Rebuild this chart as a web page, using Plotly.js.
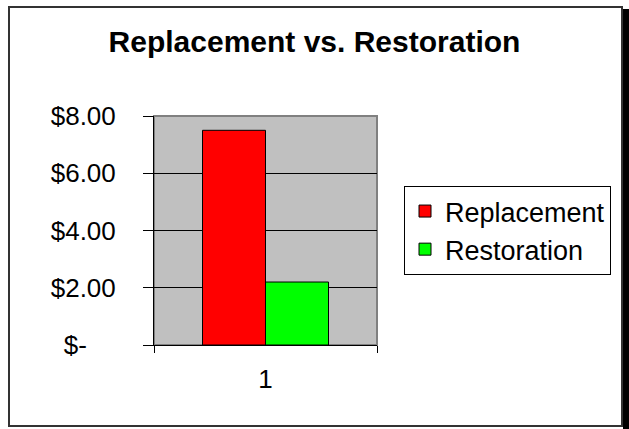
<!DOCTYPE html>
<html>
<head>
<meta charset="utf-8">
<script src="https://cdn.plot.ly/plotly-3.0.1.min.js"></script>
<style>html,body{margin:0;padding:0;background:#fff;}#chart{width:629px;height:429px;}</style>
</head>
<body>
<div id="chart"></div>
<script>
const categories = ['1'];
const seriesNames = ['Replacement', 'Restoration'];
const replacementValues = [7.5];
const restorationValues = [2.2];
const yTickVals = [0, 2, 4, 6, 8];
const yTickText = ['$-\u00a0\u00a0\u00a0\u00a0', '$2.00', '$4.00', '$6.00', '$8.00'];

const FONT = 'Liberation Sans, Arial, sans-serif';

const traces = [
  {type: 'bar', name: seriesNames[0], x: categories, y: replacementValues,
   marker: {color: '#ff0000', line: {color: '#000', width: 1}}},
  {type: 'bar', name: seriesNames[1], x: categories, y: restorationValues,
   marker: {color: '#00ff00', line: {color: '#000', width: 1}}}
];

const W = 629, H = 429, L = 154, R = 377, T = 116, B = 345;
function px(x){ return (x - L) / (R - L); }
function py(y){ return (B - y) / (B - T); }

const layout = {
  width: W, height: H,
  margin: {l: L, r: W - R, t: T, b: H - B, pad: 0},
  paper_bgcolor: '#fff',
  plot_bgcolor: '#c0c0c0',
  font: {family: FONT, color: '#000', size: 26},
  title: {text: 'Replacement vs. Restoration', font: {family: FONT, size: 30, weight: 'bold', color: '#000'},
          x: 0.5, xref: 'container', xanchor: 'center', y: 1 - 41 / H, yref: 'container', yanchor: 'middle'},
  barmode: 'group', bargap: 0.435, bargroupgap: 0,
  showlegend: true,
  legend: {x: px(404), y: py(186), xanchor: 'left', yanchor: 'top', bgcolor: '#fff',
           bordercolor: '#000', borderwidth: 1, font: {family: FONT, size: 27, color: '#000'},
           traceorder: 'normal'},
  xaxis: {type: 'category', showline: true, linecolor: '#000', linewidth: 1,
          ticks: 'outside', tickson: 'boundaries', ticklen: 7, tickcolor: '#000',
          showgrid: false, zeroline: false, tickfont: {size: 26}, ticklabelstandoff: 11,
          fixedrange: true},
  yaxis: {range: [0, 8], tickvals: yTickVals, ticktext: yTickText, showline: true,
          linecolor: '#000', linewidth: 1, ticks: 'outside', ticklen: 10, tickcolor: '#000',
          showgrid: true, gridcolor: '#000', gridwidth: 1, zeroline: false,
          tickfont: {size: 26}, ticklabelstandoff: 22, fixedrange: true},
  shapes: [
    {type: 'rect', xref: 'paper', yref: 'paper', x0: 0, x1: 1, y0: 0, y1: 1,
     line: {color: '#808080', width: 2}, layer: 'between'},
    {type: 'rect', xref: 'paper', yref: 'paper', x0: px(623), x1: px(630), y0: py(9), y1: py(430),
     fillcolor: '#000', line: {width: 0}, layer: 'above'},
    {type: 'rect', xref: 'paper', yref: 'paper', x0: px(9), x1: px(622), y0: py(7), y1: py(426),
     line: {color: '#333', width: 2}, layer: 'above'}
  ]
};

Plotly.newPlot('chart', traces, layout, {displayModeBar: false, staticPlot: true});
</script>
</body>
</html>
